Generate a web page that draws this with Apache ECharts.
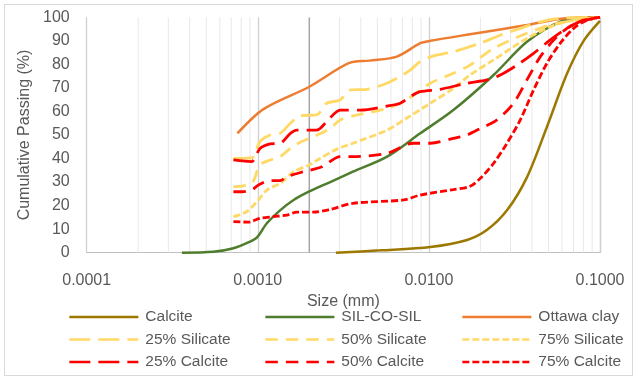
<!DOCTYPE html>
<html>
<head>
<meta charset="utf-8">
<script src="https://cdn.jsdelivr.net/npm/echarts@6/dist/echarts.min.js"></script>
<style>
html,body{margin:0;padding:0;background:#fff;}
#wrap{position:relative;width:636px;height:380px;}
#chart{position:absolute;left:0;top:0;width:636px;height:380px;}
#frame{position:absolute;left:4px;top:4px;width:627px;height:370px;border:1px solid #d9d9d9;pointer-events:none;}
</style>
</head>
<body>
<div id="wrap"><div id="chart"></div><div id="frame"></div></div>
<script>
// ---- data (size in mm, cumulative passing in %) ----
const seriesNames = ['Calcite','SIL-CO-SIL','Ottawa clay','25% Silicate','50% Silicate','75% Silicate','25% Calcite','50% Calcite','75% Calcite'];
const xTicks = [0.0001, 0.001, 0.01, 0.1];
const yTicks = [0,10,20,30,40,50,60,70,80,90,100];
const minorMultipliers = [2,3,4,5,6,7,8,9];
const clayBoundary = 0.002;

const calcite = [[0.00286,0],[0.0052,1.0],[0.0102,2.4],[0.0167,5.4],[0.0218,9.6],[0.0286,18],[0.0374,32],[0.049,53.5],[0.0641,76],[0.0802,90],[0.1,98.5]];
const silCoSil = [[0.00036,0],[0.00055,0.4],[0.00072,1.9],[0.0009,4.7],[0.00099,6.5],[0.00113,12.5],[0.00135,18],[0.00162,22.4],[0.002,26],[0.00265,30],[0.0036,34.4],[0.0057,40.8],[0.0089,50.7],[0.0139,60.6],[0.0239,75.5],[0.0374,89.6],[0.0586,98.1],[0.084,100],[0.1,100]];
const ottawa = [[0.00076,50.7],[0.00108,61],[0.002,70.5],[0.0034,80.5],[0.0045,81.6],[0.0065,83.3],[0.0089,89],[0.0102,90],[0.0174,92.8],[0.0374,96.7],[0.061,99.5],[0.1,100]];
const sil25 = [[0.00072,40.1],[0.00092,40.3],[0.00103,47.2],[0.00118,50],[0.00135,50.7],[0.00155,55],[0.00177,58.2],[0.00221,58.6],[0.00253,63.5],[0.00303,64.9],[0.00347,69.1],[0.00434,69.4],[0.00568,72],[0.0065,74.1],[0.00777,77.6],[0.00889,81.1],[0.01064,83.6],[0.01393,85.4],[0.01995,89],[0.02612,92.4],[0.0342,95.3],[0.04476,98.1],[0.0586,99.6],[0.1,100]];
const sil50 = [[0.00072,28],[0.00092,29.5],[0.00103,37.3],[0.00118,39.4],[0.00135,40.8],[0.00155,44.3],[0.00169,46.2],[0.002,48.6],[0.00231,50.5],[0.00265,52.8],[0.00303,56.4],[0.00379,58.5],[0.00568,61.3],[0.0074,64.9],[0.0102,72],[0.0139,76.2],[0.0174,79.7],[0.0239,86.8],[0.0374,93.2],[0.0556,97.4],[0.1,100]];
const sil75 = [[0.00072,15.3],[0.00086,17.4],[0.00099,21.7],[0.00113,26.6],[0.00135,29.5],[0.00162,34.4],[0.002,37.3],[0.00231,40],[0.0029,44],[0.0036,46.5],[0.0057,52.1],[0.0074,57.1],[0.0102,63.5],[0.0139,69.8],[0.0174,75.5],[0.0239,81.9],[0.0374,91],[0.0586,97.5],[0.1,100]];
const calc25 = [[0.00072,39.4],[0.00092,38.7],[0.00103,44.3],[0.00118,46.2],[0.00135,46.5],[0.00155,50.7],[0.00169,52.1],[0.00221,52.1],[0.00253,55.7],[0.00303,60.6],[0.00397,60.6],[0.00568,62.3],[0.0068,63.5],[0.00777,66.3],[0.00889,68.4],[0.01165,69.4],[0.01668,72],[0.02184,73.4],[0.02612,75.5],[0.0327,79.7],[0.0409,84.7],[0.0512,90.4],[0.0641,95.3],[0.0802,98.8],[0.1,100]];
const calc50 = [[0.00072,25.9],[0.00081,25.9],[0.00092,26.6],[0.00101,28.8],[0.00118,30.6],[0.00135,30.6],[0.00148,32.3],[0.00185,34.4],[0.00237,36.5],[0.00303,40.8],[0.0036,40.8],[0.0057,42.2],[0.0081,46.5],[0.0102,46.5],[0.0139,48.6],[0.0167,50],[0.02,52.8],[0.025,56.4],[0.0312,63.5],[0.0374,73.4],[0.0448,83.3],[0.0536,90.3],[0.0641,95.3],[0.0767,98.1],[0.1,100]];
const calc75 = [[0.00072,13.2],[0.00088,13],[0.00103,14.6],[0.00123,15.3],[0.00148,16],[0.00169,17.2],[0.00211,17.2],[0.00265,18.4],[0.0036,21],[0.0071,22.4],[0.0089,24.5],[0.0139,26.8],[0.0174,28.2],[0.02,31.6],[0.0239,38],[0.0286,46.5],[0.0342,56.4],[0.0409,69.1],[0.049,80.5],[0.0586,89],[0.0701,95.3],[0.084,98.8],[0.1,100]];

// ---- styles ----
const FONT = 'Liberation Sans, Arial, sans-serif';
const TXT = '#595959';
const C_CALCITE = '#9C7800', C_GREEN = '#4F7D2E', C_ORANGE = '#ED7D31', C_YEL = '#FFD966', C_RED = '#FF0000';
const LONG = [21, 8], DASH = [12.5, 8], SHORT = [7, 3];

// vertical gridline values: [size, kind] (kind 0 = minor, 1 = clay/silt boundary)
const gridLines = [];
xTicks.slice(0, -1).forEach(d => minorMultipliers.forEach(k => {
  const v = +(k * d).toPrecision(3);
  gridLines.push([v, yTicks[0], Math.abs(v - clayBoundary) < 1e-12 ? 1 : 0]);
}));

function mk(name, data, color, width, dash) {
  return {
    name, type: 'line', data, smooth: 0.3, symbol: 'none', showSymbol: false,
    lineStyle: {color, width, type: dash || 'solid', cap: 'butt'},
    itemStyle: {color}, z: 3, silent: true
  };
}

const series = [
  {
    name: '_grid', type: 'custom', silent: true, z: 1, clip: true,
    data: gridLines, encode: {x: 0, y: 1},
    renderItem: function (params, api) {
      const v = api.value(0);
      const p0 = api.coord([v, yTicks[0]]);
      const p1 = api.coord([v, yTicks[yTicks.length - 1]]);
      const boundary = api.value(2) === 1;
      return {
        type: 'line',
        shape: {x1: p0[0], y1: p0[1], x2: p1[0], y2: p1[1]},
        style: {stroke: boundary ? '#a6a6a6' : '#e8e8e8', lineWidth: boundary ? 1.5 : 1}
      };
    }
  },
  mk('Calcite', calcite, C_CALCITE, 2.5),
  mk('SIL-CO-SIL', silCoSil, C_GREEN, 2.5),
  mk('Ottawa clay', ottawa, C_ORANGE, 2.5),
  mk('25% Silicate', sil25, C_YEL, 2.8, LONG),
  mk('50% Silicate', sil50, C_YEL, 2.8, DASH),
  mk('75% Silicate', sil75, C_YEL, 2.8, SHORT),
  mk('25% Calcite', calc25, C_RED, 2.8, LONG),
  mk('50% Calcite', calc50, C_RED, 2.8, DASH),
  mk('75% Calcite', calc75, C_RED, 2.8, SHORT)
];

function legendCol(left, names) {
  return {
    orient: 'vertical', left, top: 308, padding: 0, itemWidth: 69, itemHeight: 14, itemGap: 4.5,
    selectedMode: false, data: names,
    itemStyle: {opacity: 0},
    lineStyle: {width: 2.7},
    textStyle: {fontFamily: FONT, fontSize: 15.5, color: TXT, lineHeight: 18, padding: [0,0,0,2]}
  };
}

const chart = echarts.init(document.getElementById('chart'), null, {renderer: 'canvas'});
chart.setOption({
  animation: false,
  backgroundColor: '#fff',
  grid: {left: 86.7, right: 36, top: 17.3, bottom: 127.3, containLabel: false},
  xAxis: {
    type: 'log', logBase: 10, min: xTicks[0], max: xTicks[xTicks.length - 1],
    name: 'Size (mm)', nameLocation: 'middle', nameGap: 37,
    nameTextStyle: {fontFamily: FONT, fontSize: 16, color: TXT},
    axisLine: {show: true, lineStyle: {color: '#bfbfbf', width: 1}},
    axisTick: {show: false},
    axisLabel: {fontFamily: FONT, fontSize: 16, color: TXT, margin: 20,
      formatter: v => Number(v).toFixed(4)},
    splitLine: {show: true, lineStyle: {color: '#d0d0d0', width: 1.3}},
    minorSplitLine: {show: false}
  },
  yAxis: {
    type: 'value', min: yTicks[0], max: yTicks[yTicks.length - 1], interval: 10,
    name: 'Cumulative Passing (%)', nameLocation: 'middle', nameGap: 52,
    nameTextStyle: {fontFamily: FONT, fontSize: 16, color: TXT},
    axisLine: {show: false}, axisTick: {show: false},
    axisLabel: {fontFamily: FONT, fontSize: 16, color: TXT, margin: 17},
    splitLine: {show: false}
  },
  legend: [
    legendCol(68, [seriesNames[0], seriesNames[3], seriesNames[6]]),
    legendCol(264, [seriesNames[1], seriesNames[4], seriesNames[7]]),
    legendCol(461, [seriesNames[2], seriesNames[5], seriesNames[8]])
  ],
  series
});
</script>
</body>
</html>
